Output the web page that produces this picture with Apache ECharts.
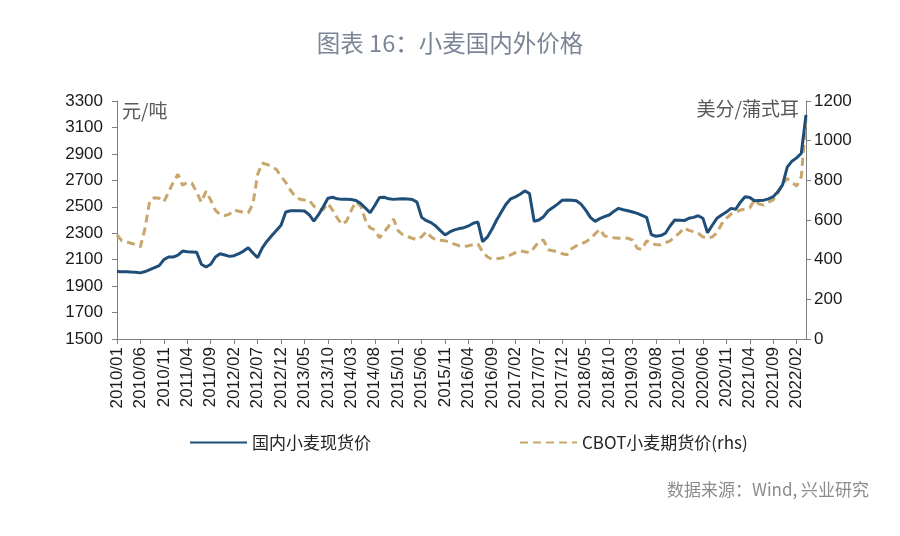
<!DOCTYPE html>
<html>
<head>
<meta charset="utf-8">
<script src="https://cdn.jsdelivr.net/npm/echarts@6/dist/echarts.min.js"></script>
<style>
html,body{margin:0;padding:0;background:#fff;}
#chart{width:900px;height:536px;}
</style>
</head>
<body>
<div id="chart"></div>
<script>
// ---- data ----
const startYear = 2010, monthCount = 148; // 2010/01 .. 2022/04
const months = [];
for (let i = 0; i < monthCount; i++) {
  const y = startYear + Math.floor(i / 12), m = (i % 12) + 1;
  months.push(y + '/' + (m < 10 ? '0' + m : m));
}
const domesticWheat = [
  2010,2008,2008,2006,2005,2000,2010,2025,2040,2055,
  2100,2120,2120,2135,2165,2160,2158,2156,2065,2045,
  2065,2120,2145,2135,2125,2130,2145,2165,2190,2150,
  2115,2190,2240,2280,2320,2360,2460,2470,2470,2470,
  2468,2440,2392,2440,2500,2565,2572,2560,2556,2556,
  2555,2548,2525,2490,2455,2510,2570,2572,2560,2556,
  2558,2560,2558,2555,2535,2420,2395,2380,2355,2320,
  2287,2310,2325,2335,2342,2355,2375,2385,2236,2270,
  2330,2400,2460,2520,2560,2575,2595,2620,2600,2390,
  2400,2425,2470,2495,2520,2550,2552,2550,2545,2520,
  2475,2420,2390,2410,2425,2438,2465,2488,2478,2470,
  2460,2450,2435,2420,2290,2277,2282,2300,2355,2400,
  2398,2396,2413,2420,2432,2413,2304,2360,2413,2438,
  2460,2488,2481,2535,2576,2570,2545,2548,2550,2560,
  2576,2614,2665,2800,2845,2870,2905,3195
];
const cbotWheat = [
  525,496,490,483,475,465,560,700,712,710,
  692,740,790,830,775,790,785,740,690,745,
  700,648,628,622,630,650,644,638,637,680,
  830,886,880,870,855,820,790,750,720,705,
  701,700,670,655,652,684,650,610,578,595,
  650,692,670,600,560,550,510,540,570,605,
  545,525,516,508,500,515,541,515,500,498,
  495,488,478,470,465,470,476,479,440,415,
  402,405,408,412,424,435,445,440,435,460,
  491,499,450,445,440,430,425,455,470,479,
  490,505,530,553,520,514,510,508,510,508,
  499,457,452,495,480,476,474,485,495,515,
  535,560,548,541,533,515,508,515,535,580,
  608,630,640,650,655,660,701,680,675,690,
  701,735,780,810,790,771,818,1113
];
const leftTicks = {min: 1500, max: 3300, step: 200};
const rightTicks = {min: 0, max: 1200, step: 200};
const seriesNames = ['国内小麦现货价', 'CBOT小麦期货价(rhs)'];

const FONT = '"Liberation Sans", "Noto Sans CJK SC", sans-serif';
const CJK = '"Noto Sans CJK SC", "Liberation Sans", sans-serif';
const axisColor = '#7f7f7f';
const plain = v => String(v);

const chart = echarts.init(document.getElementById('chart'), null, {renderer: 'canvas'});
chart.setOption({
  animation: false,
  backgroundColor: '#fff',
  title: {
    text: '图表 16：小麦国内外价格',
    left: 'center', top: 26,
    textStyle: {fontFamily: CJK, fontSize: 23.5, fontWeight: 'normal', color: '#7b8596'}
  },
  grid: {left: 117, right: 94, top: 101, bottom: 197},
  legend: [
    {data: [seriesNames[0]], left: 184, top: 429, itemWidth: 57, itemHeight: 14, itemGap: 0,
     itemStyle: {opacity: 0},
     textStyle: {fontFamily: CJK, fontSize: 17, color: '#262626'}},
    {data: [seriesNames[1]], left: 514, top: 429, itemWidth: 57, itemHeight: 14, itemGap: 0,
     itemStyle: {opacity: 0},
     textStyle: {fontFamily: CJK, fontSize: 17, color: '#262626'}}
  ],
  xAxis: {
    type: 'category', data: months, boundaryGap: false,
    axisLine: {show: true, lineStyle: {color: axisColor, width: 1}},
    axisTick: {show: true, interval: 4, length: 5, lineStyle: {color: axisColor}},
    axisLabel: {interval: 4, rotate: 90, margin: 8, fontFamily: FONT, fontSize: 17, color: '#1a1a1a'},
    splitLine: {show: false}
  },
  yAxis: [
    {type: 'value', min: leftTicks.min, max: leftTicks.max, interval: leftTicks.step,
     axisLine: {show: true, lineStyle: {color: axisColor}},
     axisTick: {show: true, length: 5, lineStyle: {color: axisColor}},
     axisLabel: {margin: 14, fontFamily: FONT, fontSize: 17, color: '#1a1a1a', formatter: plain},
     splitLine: {show: false}},
    {type: 'value', min: rightTicks.min, max: rightTicks.max, interval: rightTicks.step,
     position: 'right',
     axisLine: {show: true, lineStyle: {color: axisColor}},
     axisTick: {show: true, length: 5, lineStyle: {color: axisColor}},
     axisLabel: {margin: 8, fontFamily: FONT, fontSize: 17, color: '#1a1a1a', formatter: plain},
     splitLine: {show: false}}
  ],
  graphic: [
    {type: 'text', left: 122, top: 101,
     style: {text: '元/吨', font: '19px ' + CJK, fill: '#595959'}},
    {type: 'text', right: 101, top: 99,
     style: {text: '美分/蒲式耳', font: '19px ' + CJK, fill: '#595959'}},
    {type: 'text', right: 31, top: 481,
     style: {text: '数据来源：Wind, 兴业研究', font: '17px ' + CJK, fill: '#8c8c8c'}}
  ],
  series: [
    {name: seriesNames[0], type: 'line', yAxisIndex: 0, data: domesticWheat,
     symbol: 'none', z: 3,
     lineStyle: {color: '#1f4e79', width: 3}, itemStyle: {color: '#1f4e79'}},
    {name: seriesNames[1], type: 'line', yAxisIndex: 1, data: cbotWheat,
     symbol: 'none', z: 2,
     lineStyle: {color: '#c9a66b', width: 3, type: [8, 5]}, itemStyle: {color: '#c9a66b'}}
  ]
});
</script>
</body>
</html>
